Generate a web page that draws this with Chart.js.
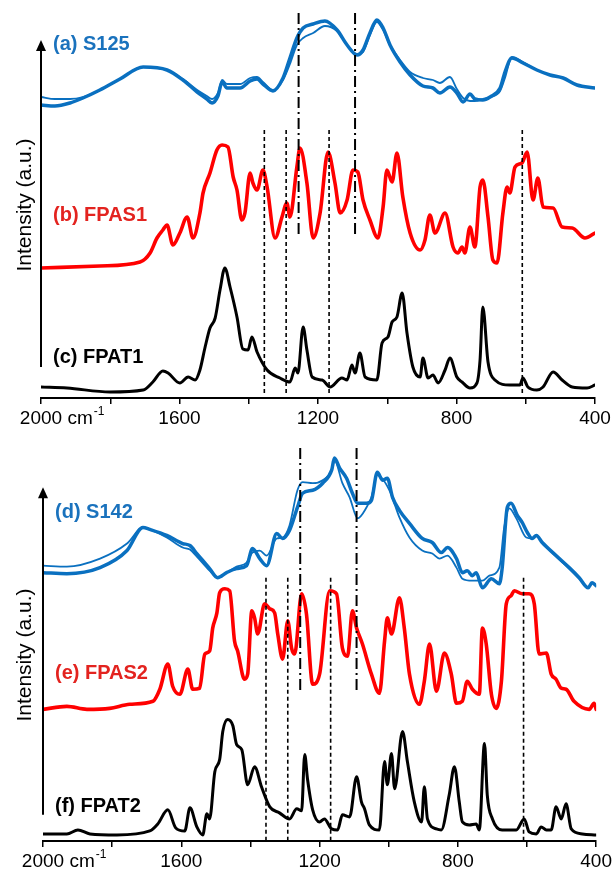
<!DOCTYPE html>
<html>
<head>
<meta charset="utf-8">
<script src="https://cdn.jsdelivr.net/npm/chart.js@4/dist/chart.umd.min.js"></script>
<style>
  body { margin: 0; background: #fff; }
  #wrap { position: relative; width: 615px; height: 873px; }
  canvas { position: absolute; left: 0; }
</style>
</head>
<body>
<div id="wrap">
  <canvas id="topChart" width="615" height="430" style="top:0"></canvas>
  <canvas id="bottomChart" width="615" height="433" style="top:440px"></canvas>
</div>
<script>
// wavenumbers (cm-1) and offset intensities (a.u.)

// ---- top panel ----
const s125Wn = [2000,1960,1916,1879,1830,1772,1705,1636,1590,1549,1521,1506,1489,1477,1463,1425,1396,1376,1359,1330,1301,1281,1261,1243,1214,1180,1145,1116,1087,1070,1050,1030,1012,992,963,934,897,868,848,819,799,781,761,747,724,703,674,660,640,608,568,530,492,452,400];
const s125Thick = [293,292,295,300,308,319,331,328,318,306,299,295,302,316,310,310,317,319,314,307,320,340,360,370,374,377,368,353,343,348,365,378,370,353,336,323,312,310,305,311,305,296,304,299,298,301,310,326,340,335,328,323,320,313,310];
const s125Thin = [301,299,299,301,308,319,331,328,319,308,302,299,305,318,314,314,320,321,316,308,318,334,353,360,365,372,367,353,344,346,363,376,368,353,338,326,320,318,315,321,309,300,297,297,299,301,307,320,341,336,328,323,320,313,310];

const fpas1Wn = [2000,1830,1714,1685,1665,1648,1636,1619,1599,1578,1561,1541,1532,1512,1492,1477,1460,1445,1434,1420,1411,1396,1388,1376,1359,1347,1324,1304,1290,1281,1261,1252,1232,1214,1194,1171,1151,1136,1116,1099,1085,1070,1050,1027,1012,1001,986,972,955,934,905,891,877,862,833,810,796,784,776,761,747,732,724,709,695,683,666,654,646,631,611,596,579,565,550,521,495,466,429,400];
const fpas1 = [130,132,136,145,160,168,173,153,165,181,160,185,205,225,248,253,251,221,208,178,185,225,215,208,228,211,160,181,195,181,231,250,215,160,185,246,215,185,198,228,226,198,178,160,191,228,216,245,201,165,148,158,183,165,185,151,145,151,145,171,151,211,218,181,138,135,185,211,205,231,235,246,198,220,191,190,171,170,160,165];

const fpat1Wn = [2000,1925,1801,1705,1677,1648,1633,1599,1575,1555,1541,1526,1512,1497,1483,1469,1454,1434,1417,1402,1391,1376,1347,1310,1281,1266,1258,1243,1232,1217,1188,1165,1131,1116,1102,1093,1079,1064,1030,1015,998,986,972,957,943,926,905,897,882,868,853,833,819,799,784,761,741,732,724,709,689,646,617,608,594,568,550,521,495,466,423,400];
const fpat1 = [11,10,6,8,16,27,25,15,21,18,28,51,70,80,108,130,111,81,49,48,61,46,28,20,16,30,25,71,48,21,18,11,20,18,33,25,45,21,18,55,61,76,81,105,65,31,21,40,20,23,15,28,40,21,16,10,15,38,91,36,18,13,13,20,11,8,11,26,18,11,10,13];

// ---- bottom panel ----
const s142ThickWn = [2000,1931,1835,1757,1711,1691,1642,1596,1575,1555,1518,1495,1469,1440,1411,1394,1373,1353,1324,1307,1287,1264,1249,1220,1191,1165,1157,1142,1122,1105,1090,1064,1050,1033,1018,1004,989,969,940,903,874,848,830,804,787,773,758,747,729,703,680,672,657,646,628,614,599,585,573,556,516,478,449,423,412,400];
const s142Thick = [267,266,272,289,312,310,304,296,294,286,271,262,267,271,274,291,281,274,306,301,309,332,346,349,356,369,381,371,361,346,336,336,339,367,359,361,342,329,316,301,297,287,292,281,267,269,264,267,252,261,256,271,332,336,324,317,307,301,304,297,284,272,262,252,257,254];
const s142ThinWn = [2000,1931,1835,1757,1711,1691,1642,1596,1575,1555,1518,1495,1469,1440,1411,1394,1373,1353,1324,1307,1287,1264,1249,1220,1191,1165,1157,1134,1113,1090,1064,1050,1033,998,969,940,903,874,853,830,804,787,758,729,709,680,666,651,631,602,585,573,556,516,478,449,423,412,400];
const s142Thin = [274,273,281,296,312,310,302,292,290,283,269,262,267,273,277,287,289,284,301,302,314,349,357,356,359,369,379,356,342,321,332,342,364,349,322,302,289,286,281,284,272,261,259,259,264,272,312,331,321,302,301,304,297,283,271,261,252,257,254];

const fpas2Wn = [2000,1931,1873,1807,1749,1682,1662,1639,1625,1604,1581,1567,1547,1532,1518,1509,1497,1489,1474,1460,1446,1437,1417,1408,1396,1388,1379,1359,1344,1330,1321,1307,1292,1281,1272,1252,1238,1220,1200,1171,1151,1134,1119,1105,1093,1076,1050,1027,1012,1004,992,969,955,940,911,897,882,862,839,819,804,787,773,758,738,729,718,703,689,674,660,646,637,614,594,579,565,544,530,516,501,487,464,420,406,400];
const fpas2 = [131,134,131,132,136,139,151,176,154,146,171,151,152,186,189,212,227,247,251,249,199,189,161,166,229,222,206,236,231,227,206,181,219,192,186,246,226,156,166,249,246,192,184,229,212,196,166,147,199,222,206,242,212,166,136,159,196,149,187,166,137,139,159,151,146,212,196,146,132,159,236,244,249,246,246,236,186,187,166,161,152,151,139,131,137,131];

const fpat2Wn = [2000,1931,1899,1864,1786,1691,1668,1639,1616,1590,1575,1555,1538,1526,1518,1503,1489,1480,1466,1451,1440,1425,1408,1388,1368,1344,1316,1287,1266,1252,1243,1235,1220,1200,1186,1165,1148,1134,1113,1093,1079,1070,1056,1027,1012,1004,992,983,960,946,926,905,897,888,862,848,825,810,796,787,767,747,738,723,715,700,672,631,608,594,573,559,544,530,516,501,487,472,440,400];
const fpat2 = [7,7,11,7,6,10,17,31,13,10,33,14,6,27,22,69,81,109,121,115,96,91,56,74,54,34,28,22,32,30,86,62,31,19,22,12,11,26,24,64,39,32,16,11,79,56,87,52,109,79,39,19,54,22,12,11,46,74,39,19,16,17,11,97,46,22,11,11,22,9,7,14,11,11,34,22,37,12,7,6];

// marker lines (cm-1)
const dashedWn = [1355, 1292, 1168, 610];
const dashDotWn = [1256, 1093];
const labeledTicks = [2000, 1600, 1200, 800, 400];

const FONT = "'Liberation Sans', Arial, sans-serif";
const BLUE = '#0a70c0';
const RED = '#ff0000';

function pts(xs, ys) {
    return xs.map((x, i) => ({ x: x, y: ys[i] }));
}

function ds(xs, ys, color, width) {
    return {
        data: pts(xs, ys),
        borderColor: color,
        borderWidth: width,
        pointRadius: 0,
        cubicInterpolationMode: 'monotone',
        fill: false
    };
}

const overlay = {
    id: 'overlay',
    afterDatasetsDraw(chart, args, o) {
        const ctx = chart.ctx;
        const xs = chart.scales.x, ys = chart.scales.y;
        const left = chart.chartArea.left;
        ctx.save();
        ctx.strokeStyle = '#000';

        // y axis arrow
        const yTop = ys.getPixelForValue(o.arrow[0]);
        const yBot = ys.getPixelForValue(o.arrow[1]);
        ctx.lineWidth = 2;
        ctx.beginPath();
        ctx.moveTo(left, yBot);
        ctx.lineTo(left, yTop + 8);
        ctx.stroke();
        ctx.fillStyle = '#000';
        ctx.beginPath();
        ctx.moveTo(left, yTop);
        ctx.lineTo(left - 5, yTop + 11);
        ctx.lineTo(left + 5, yTop + 11);
        ctx.closePath();
        ctx.fill();

        // reference lines
        ctx.lineWidth = 1.6;
        ctx.setLineDash([4, 3]);
        dashedWn.forEach(w => {
            const px = xs.getPixelForValue(w);
            ctx.beginPath();
            ctx.moveTo(px, ys.getPixelForValue(o.dashed[0]));
            ctx.lineTo(px, ys.getPixelForValue(o.dashed[1]));
            ctx.stroke();
        });
        ctx.lineWidth = 2;
        ctx.setLineDash([11, 4, 2, 4]);
        dashDotWn.forEach(w => {
            const px = xs.getPixelForValue(w);
            ctx.beginPath();
            ctx.moveTo(px, ys.getPixelForValue(o.dashDot[0]));
            ctx.lineTo(px, ys.getPixelForValue(o.dashDot[1]));
            ctx.stroke();
        });
        ctx.setLineDash([]);

        // series names
        ctx.font = 'bold 20px ' + FONT;
        ctx.textBaseline = 'middle';
        ctx.textAlign = 'left';
        o.names.forEach(n => {
            ctx.fillStyle = n.color;
            ctx.fillText(n.text, left + 12, ys.getPixelForValue(n.y));
        });

        // y title
        ctx.save();
        ctx.translate(25, ys.getPixelForValue(o.titleY));
        ctx.rotate(-Math.PI / 2);
        ctx.font = '21px ' + FONT;
        ctx.fillStyle = '#000';
        ctx.textAlign = 'center';
        ctx.textBaseline = 'middle';
        ctx.fillText('Intensity (a.u.)', 0, 0);
        ctx.restore();

        // unit after the first tick label, on the same line as "2000"
        const x0 = xs.getPixelForValue(2000);
        let ty = chart.chartArea.bottom + 16;
        let base = 'middle';
        if (xs.getLabelItems) {
            const it = xs.getLabelItems().find(i => i.label === '2000');
            if (it) {
                ty = it.options.translation[1] + (it.textOffset || 0);
                base = it.options.textBaseline || 'middle';
            }
        }
        ctx.font = '19px ' + FONT;
        ctx.fillStyle = '#000';
        ctx.textAlign = 'left';
        ctx.textBaseline = base;
        const w = ctx.measureText('2000').width;
        const cx = x0 + w / 2 + ctx.measureText(' ').width;
        ctx.fillText('cm', cx, ty);
        const cw = ctx.measureText('cm').width;
        ctx.font = '12px ' + FONT;
        ctx.fillText('-1', cx + cw + 1, ty - 7);
        ctx.restore();
    }
};

function makeChart(id, datasets, padLeft, padRight, yMax, opts) {
    return new Chart(document.getElementById(id).getContext('2d'), {
        type: 'line',
        data: { datasets: datasets },
        options: {
            responsive: false,
            animation: false,
            devicePixelRatio: 1,
            layout: { padding: { left: padLeft, right: padRight, top: 0, bottom: 0 } },
            plugins: { legend: { display: false }, tooltip: { enabled: false }, overlay: opts },
            elements: { line: { borderJoinStyle: 'round', borderCapStyle: 'round' } },
            scales: {
                x: {
                    type: 'linear',
                    reverse: true,
                    min: 400,
                    max: 2000,
                    afterFit: s => { s.height = 32; },
                    ticks: {
                        stepSize: 200,
                        autoSkip: false,
                        maxRotation: 0,
                        padding: 3,
                        color: '#000',
                        font: { family: FONT, size: 19 },
                        callback: v => labeledTicks.includes(v) ? String(v) : ''
                    },
                    grid: { drawOnChartArea: false, tickLength: 6, color: '#000', lineWidth: 1.5 },
                    border: { color: '#000', width: 2 }
                },
                y: { display: false, min: 0, max: yMax }
            }
        },
        plugins: [overlay]
    });
}

const topChart = makeChart('topChart', [
    ds(fpat1Wn, fpat1, '#000', 3),
    ds(fpas1Wn, fpas1, RED, 3.6),
    ds(s125Wn, s125Thin, BLUE, 1.8),
    ds(s125Wn, s125Thick, BLUE, 3.5)
], 41, 20, 398, {
    arrow: [358, 31],
    dashed: [268, 5],
    dashDot: [385, 160],
    titleY: 193,
    names: [
        { text: '(a) S125', color: '#1a72bd', y: 354 },
        { text: '(b) FPAS1', color: '#e3231f', y: 183 },
        { text: '(c) FPAT1', color: '#000', y: 41 }
    ]
});

const bottomChart = makeChart('bottomChart', [
    ds(fpat2Wn, fpat2, '#000', 3),
    ds(fpas2Wn, fpas2, RED, 3.6),
    ds(s142ThinWn, s142Thin, BLUE, 1.8),
    ds(s142ThickWn, s142Thick, BLUE, 3.5)
], 43, 18, 399, {
    arrow: [352, 26],
    dashed: [262, 1],
    dashDot: [391, 149],
    titleY: 185,
    names: [
        { text: '(d) S142', color: '#1a72bd', y: 327 },
        { text: '(e) FPAS2', color: '#e3231f', y: 167 },
        { text: '(f) FPAT2', color: '#000', y: 34 }
    ]
});
</script>
</body>
</html>
